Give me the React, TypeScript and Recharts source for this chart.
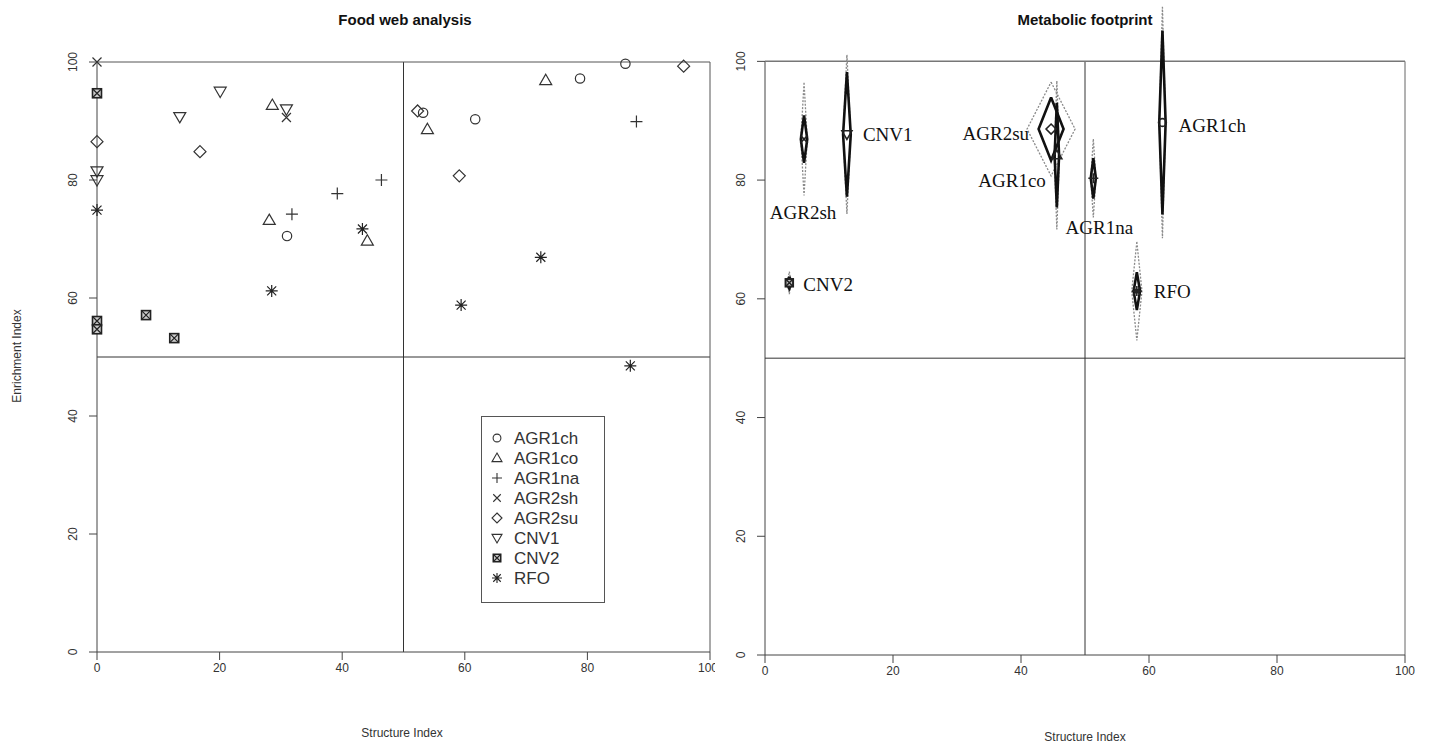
import React from "react"
import {
  ScatterChart,
  Scatter,
  XAxis,
  YAxis,
  ReferenceLine,
  Legend,
} from "recharts"

// groups and their plotting symbols
const groups = ["AGR1ch", "AGR1co", "AGR1na", "AGR2sh", "AGR2su", "CNV1", "CNV2", "RFO"]
const symbols = ["circle", "tri", "plus", "cross", "diamond", "triDown", "boxX", "star"]

// Food web analysis: structure index (SI) and enrichment index (EI) per sample
const agr1chSI = [31.0, 53.2, 61.7, 78.8, 86.2]
const agr1chEI = [70.5, 91.4, 90.3, 97.2, 99.7]
const agr1coSI = [28.6, 28.1, 44.1, 73.2, 53.9]
const agr1coEI = [92.7, 73.2, 69.7, 96.9, 88.6]
const agr1naSI = [31.8, 39.2, 46.4, 88.0]
const agr1naEI = [74.2, 77.7, 80.0, 89.9]
const agr2shSI = [0, 30.9]
const agr2shEI = [100, 90.6]
const agr2suSI = [0, 16.8, 52.3, 59.1, 95.7]
const agr2suEI = [86.5, 84.8, 91.7, 80.7, 99.3]
const cnv1SI = [0, 0, 13.5, 20.1, 30.9]
const cnv1EI = [81.5, 80.0, 90.7, 95.0, 92.0]
const cnv2SI = [0, 0, 0, 8.0, 12.6]
const cnv2EI = [94.7, 56.1, 54.7, 57.1, 53.2]
const rfoSI = [0, 28.5, 43.3, 59.4, 72.4, 87.0]
const rfoEI = [74.9, 61.2, 71.7, 58.8, 66.9, 48.5]

const fwSI = [agr1chSI, agr1coSI, agr1naSI, agr2shSI, agr2suSI, cnv1SI, cnv2SI, rfoSI]
const fwEI = [agr1chEI, agr1coEI, agr1naEI, agr2shEI, agr2suEI, cnv1EI, cnv2EI, rfoEI]

// Metabolic footprint: centroid and spread (inner solid, outer dotted)
const fpSI = [62.1, 45.6, 51.3, 6.1, 44.7, 12.8, 3.8, 58.1]
const fpEI = [89.7, 84.2, 80.3, 86.9, 88.6, 87.7, 62.7, 61.3]
const fpInnerSI = [0.5, 0.35, 0.4, 0.5, 1.95, 0.6, 0.4, 0.5]
const fpInnerEI = [15.5, 8.8, 3.4, 4.0, 5.3, 10.5, 1.0, 3.2]
const fpOuterSI = [0.5, 0.4, 0.4, 0.5, 3.75, 0.6, 0.3, 0.8]
const fpOuterEI = [19.5, 12.5, 6.6, 9.5, 7.9, 13.4, 1.9, 8.3]

const ticks = [0, 20, 40, 60, 80, 100]

// label placement for footprint chart (pixels relative to centroid)
const labelPlace: Record<string, { dx: number; dy: number; anchor: string }> = {
  AGR1ch: { dx: 16, dy: 9, anchor: "start" },
  AGR1co: { dx: -11, dy: 32, anchor: "end" },
  AGR1na: { dx: 6, dy: 56, anchor: "middle" },
  AGR2sh: { dx: -1, dy: 80, anchor: "middle" },
  AGR2su: { dx: -22, dy: 11, anchor: "end" },
  CNV1: { dx: 16, dy: 7, anchor: "start" },
  CNV2: { dx: 14, dy: 8, anchor: "start" },
  RFO: { dx: 17, dy: 7, anchor: "start" },
}

const sans = "'Liberation Sans', Arial, sans-serif"
const serif = "'Liberation Serif', 'Times New Roman', serif"
const ink = "#333"

function glyph(kind: string, cx: number, cy: number, s: number, sw = 1.2, stroke = ink) {
  const c = { fill: "none", stroke, strokeWidth: sw }
  const k = s * 0.75
  switch (kind) {
    case "circle":
      return <circle cx={cx} cy={cy} r={s * 0.78} {...c} />
    case "tri":
      return <polygon points={`${cx},${cy - s} ${cx + s},${cy + s * 0.72} ${cx - s},${cy + s * 0.72}`} {...c} />
    case "triDown":
      return <polygon points={`${cx},${cy + s} ${cx + s},${cy - s * 0.72} ${cx - s},${cy - s * 0.72}`} {...c} />
    case "plus":
      return <path d={`M${cx - s} ${cy}H${cx + s}M${cx} ${cy - s}V${cy + s}`} {...c} />
    case "cross":
      return <path d={`M${cx - k} ${cy - k}L${cx + k} ${cy + k}M${cx - k} ${cy + k}L${cx + k} ${cy - k}`} {...c} />
    case "diamond":
      return <polygon points={`${cx},${cy - s} ${cx + s},${cy} ${cx},${cy + s} ${cx - s},${cy}`} {...c} />
    case "boxX":
      return (
        <g>
          <rect x={cx - k} y={cy - k} width={2 * k} height={2 * k} fill="#ccc" stroke="#222" strokeWidth={sw + 0.4} />
          <path d={`M${cx - k} ${cy - k}L${cx + k} ${cy + k}M${cx - k} ${cy + k}L${cx + k} ${cy - k}`} {...c} stroke="#222" />
        </g>
      )
    case "star":
      return (
        <path
          d={`M${cx - s} ${cy}H${cx + s}M${cx} ${cy - s}V${cy + s}M${cx - k} ${cy - k}L${cx + k} ${cy + k}M${cx - k} ${cy + k}L${cx + k} ${cy - k}`}
          {...c}
          stroke="#222"
        />
      )
    default:
      return <g />
  }
}

const YTick = (props: any) => {
  const { x, y, payload } = props
  const bx = x - 10
  return (
    <text x={bx} y={y} transform={`rotate(-90 ${bx} ${y})`} textAnchor="middle" fontSize={12} fill={ink} fontFamily={sans}>
      {payload.value}
    </text>
  )
}

const XTick = (props: any) => {
  const { x, y, payload } = props
  return (
    <text x={x} y={y + 10} textAnchor="middle" fontSize={12} fill={ink} fontFamily={sans}>
      {payload.value}
    </text>
  )
}

const LegendBox = () => (
  <svg width={124} height={187} style={{ display: "block" }}>
    <rect x={0.5} y={0.5} width={123} height={186} fill="#fff" stroke="#555" strokeWidth={1} />
    {groups.map((g, i) => (
      <g key={g}>
        {glyph(symbols[i], 16, 22 + i * 20, 5, 1.1)}
        <text x={33} y={22 + i * 20 + 6} fontSize={17} fill={ink} fontFamily={sans}>
          {g}
        </text>
      </g>
    ))}
  </svg>
)

function diamond(i: number, hx: number[], hy: number[]) {
  const x = fpSI[i]
  const y = fpEI[i]
  return [
    { x, y: y + hy[i] },
    { x: x + hx[i], y },
    { x, y: y - hy[i] },
    { x: x - hx[i], y },
    { x, y: y + hy[i] },
  ]
}

const centroids = groups.map((g, i) => ({ name: g, kind: symbols[i], x: fpSI[i], y: fpEI[i] }))

const Centroid = (props: any) => {
  const { cx, cy, payload } = props
  const p = labelPlace[payload.name]
  return (
    <g>
      {glyph(payload.kind, cx, cy, 5, 1.6, "#222")}
      <text x={cx + p.dx} y={cy + p.dy} textAnchor={p.anchor} fontSize={19} fill="#111" fontFamily={serif}>
        {payload.name}
      </text>
    </g>
  )
}

const empty = () => <g />

const textBase: React.CSSProperties = { position: "absolute", fontFamily: sans, color: ink, whiteSpace: "nowrap" }

export default function App() {
  return (
    <div style={{ position: "absolute", left: 0, top: 0, width: 1434, height: 745, background: "#fff", overflow: "hidden" }}>
      {/* Food web analysis */}
      <div style={{ position: "absolute", left: 0, top: 0 }}>
        <ScatterChart width={720} height={745} margin={{ top: 62, right: 10, bottom: 3, left: 5 }}>
          <XAxis
            type="number"
            dataKey="x"
            domain={[0, 100]}
            ticks={ticks}
            height={90}
            tickSize={8}
            tick={<XTick />}
            stroke="#444"
          />
          <YAxis
            type="number"
            dataKey="y"
            domain={[0, 100]}
            ticks={ticks}
            width={92}
            tickSize={8}
            tick={<YTick />}
            stroke="#444"
          />
          <ReferenceLine x={50} stroke="#333" />
          <ReferenceLine y={50} stroke="#333" />
          <ReferenceLine x={100} stroke="#555" />
          <ReferenceLine y={100} stroke="#555" />
          {groups.map((g, i) => (
            <Scatter
              key={g}
              name={g}
              data={fwSI[i].map((x, j) => ({ x, y: fwEI[i][j] }))}
              fill="none"
              isAnimationActive={false}
              shape={(p: any) => glyph(symbols[i], p.cx, p.cy, 6)}
            />
          ))}
          <Legend
            layout="vertical"
            align="center"
            verticalAlign="middle"
            content={() => <LegendBox />}
            wrapperStyle={{ position: "absolute", left: 481, top: 416, width: 124, height: 187 }}
          />
        </ScatterChart>
      </div>

      {/* Metabolic footprint */}
      <div style={{ position: "absolute", left: 715, top: 0, background: "#fff" }}>
        <ScatterChart width={719} height={745} margin={{ top: 2, right: 29, bottom: 3, left: 5 }}>
          <XAxis
            type="number"
            dataKey="x"
            domain={[0, 100]}
            ticks={ticks}
            height={87}
            tickSize={8}
            tick={<XTick />}
            stroke="#444"
          />
          <YAxis
            type="number"
            dataKey="y"
            domain={[0, 110]}
            ticks={ticks}
            width={45}
            tickSize={8}
            tick={<YTick />}
            axisLine={false}
            stroke="#444"
          />
          <ReferenceLine segment={[{ x: 0, y: 0 }, { x: 0, y: 100 }]} stroke="#444" />
          <ReferenceLine segment={[{ x: 50, y: 0 }, { x: 50, y: 100 }]} stroke="#333" />
          <ReferenceLine segment={[{ x: 100, y: 0 }, { x: 100, y: 100 }]} stroke="#666" />
          <ReferenceLine y={50} stroke="#333" />
          <ReferenceLine y={100} stroke="#777" strokeWidth={1.5} />
          {groups.map((g, i) => (
            <Scatter
              key={g + "-outer"}
              data={diamond(i, fpOuterSI, fpOuterEI)}
              fill="none"
              line={{ stroke: "#8a8a8a", strokeWidth: 1.3, strokeDasharray: "2 1.5" }}
              lineType="joint"
              shape={empty}
              isAnimationActive={false}
            />
          ))}
          {groups.map((g, i) => (
            <Scatter
              key={g + "-inner"}
              data={diamond(i, fpInnerSI, fpInnerEI)}
              fill="none"
              line={{ stroke: "#111", strokeWidth: 2.6 }}
              lineType="joint"
              shape={empty}
              isAnimationActive={false}
            />
          ))}
          <Scatter data={centroids} fill="none" shape={<Centroid />} isAnimationActive={false} />
        </ScatterChart>
      </div>

      {/* titles and axis labels */}
      <div style={{ ...textBase, left: 405, top: 11, transform: "translateX(-50%)", fontSize: 15, fontWeight: "bold", color: "#111" }}>
        Food web analysis
      </div>
      <div style={{ ...textBase, left: 1085, top: 11, transform: "translateX(-50%)", fontSize: 15, fontWeight: "bold", color: "#111" }}>
        Metabolic footprint
      </div>
      <div style={{ ...textBase, left: 402, top: 726, transform: "translateX(-50%)", fontSize: 12 }}>Structure Index</div>
      <div style={{ ...textBase, left: 1085, top: 730, transform: "translateX(-50%)", fontSize: 12 }}>Structure Index</div>
      <div
        style={{
          ...textBase,
          left: 17,
          top: 356,
          transform: "translate(-50%, -50%) rotate(-90deg)",
          fontSize: 12,
        }}
      >
        Enrichment Index
      </div>
    </div>
  )
}
